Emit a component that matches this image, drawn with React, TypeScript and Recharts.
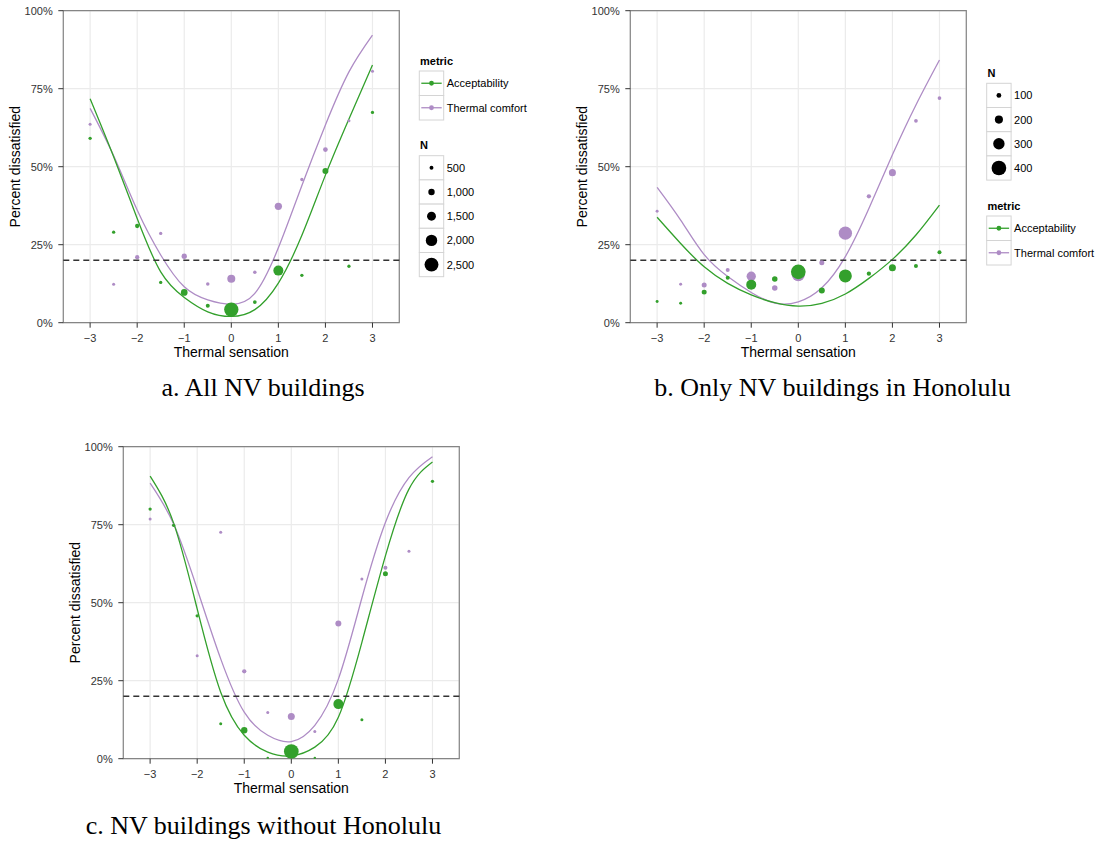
import React from 'react';
import {
  ComposedChart,
  Line,
  Scatter,
  XAxis,
  YAxis,
  CartesianGrid,
  ReferenceLine,
  ReferenceArea,
} from 'recharts';

// ---------- data ----------
const SENSATION = [-3, -2.5, -2, -1.5, -1, -0.5, 0, 0.5, 1, 1.5, 2, 2.5, 3];
const X_TICKS = [-3, -2, -1, 0, 1, 2, 3];
const X_MINOR = [-3.5, -2.5, -1.5, -0.5, 0.5, 1.5, 2.5, 3.5];
const Y_TICKS = [0, 25, 50, 75, 100];
const Y_MINOR = [12.5, 37.5, 62.5, 87.5];
const X_DOMAIN: [number, number] = [-3.57, 3.57];
const THRESHOLD = 20;

// Panel a: All NV buildings
const A_ACC_CURVE = [71.8, 53.2, 33.4, 16.3, 8.1, 3.5, 2.0, 4.2, 12.7, 28.0, 47.3, 65.3, 82.6];
const A_TC_CURVE = [68.7, 53.5, 36.1, 21.7, 11.5, 7.3, 5.9, 9.4, 24.0, 44.0, 63.4, 80.4, 92.2];
const A_ACC_PCT = [59.1, 29.0, 31.0, 12.9, 9.7, 5.4, 4.2, 6.6, 16.7, 15.2, 48.6, 18.1, 67.4];
const A_ACC_N = [380, 380, 580, 380, 1060, 520, 2580, 460, 1720, 380, 920, 380, 380];
const A_TC_PCT = [63.6, 12.3, 21.0, 28.6, 21.3, 12.4, 14.1, 16.2, 37.3, 45.9, 55.5, 64.7, 80.6];
const A_TC_N = [320, 320, 580, 380, 780, 420, 1320, 420, 1180, 380, 660, 320, 320];
const A_N_BREAKS = [500, 1000, 1500, 2000, 2500];

// Panel b: Only NV buildings in Honolulu
const B_ACC_CURVE = [33.8, 25.4, 17.9, 12.6, 8.9, 6.4, 5.3, 6.2, 9.2, 14.2, 20.3, 28.1, 37.7];
const B_TC_CURVE = [43.4, 32.9, 21.8, 14.8, 9.7, 6.3, 6.7, 11.2, 21.2, 36.6, 53.8, 69.8, 84.2];
const B_ACC_PCT = [6.8, 6.2, 9.8, 14.4, 12.2, 14.0, 16.3, 10.3, 15.0, 15.7, 17.6, 18.2, 22.6];
const B_ACC_N = [45, 45, 106, 76, 258, 121, 400, 136, 348, 85, 167, 76, 76];
const B_TC_PCT = [35.7, 12.3, 12.1, 16.9, 14.9, 11.1, 15.4, 19.2, 28.7, 40.5, 48.1, 64.7, 72.0];
const B_TC_N = [45, 45, 106, 76, 236, 121, 350, 106, 358, 85, 167, 67, 67];
const B_N_BREAKS = [100, 200, 300, 400];

// Panel c: NV buildings without Honolulu
const C_ACC_CURVE = [90.6, 75.5, 48.0, 21.3, 7.5, 2.1, 0.9, 3.7, 13.3, 37.3, 65.0, 86.4, 95.1];
const C_TC_CURVE = [88.3, 75.2, 54.4, 32.0, 14.9, 7.5, 5.5, 10.7, 25.5, 51.5, 75.7, 90.1, 96.8];
const C_ACC_PCT = [80.0, 74.8, 45.8, 11.2, 9.1, 0.2, 2.3, 0.2, 17.5, 12.5, 59.3, null, 88.9];
const C_ACC_N = [380, 380, 380, 320, 1000, 220, 2660, 220, 1720, 320, 720, null, 380];
const C_TC_PCT = [76.8, 74.9, 33.0, 72.6, 28.0, 14.8, 13.5, 8.7, 43.3, 57.6, 61.2, 66.5, null];
const C_TC_N = [320, 320, 320, 320, 580, 320, 1120, 320, 920, 320, 520, 320, null];

const METRICS = [
  { key: 'acc', label: 'Acceptability' },
  { key: 'tc', label: 'Thermal comfort' },
];

const CAPTIONS = ['a. All NV buildings', 'b. Only NV buildings in Honolulu', 'c. NV buildings without Honolulu'];

// ---------- styles ----------
const GREEN = '#33a02c';
const PURPLE = '#ae8cc5';
const COLORS: Record<string, string> = { acc: GREEN, tc: PURPLE };
const SANS = '"Liberation Sans", Arial, Helvetica, sans-serif';
const SERIF = '"Liberation Serif", "Times New Roman", serif';

const radiusA = (n: number) => (1.4 + 0.005 * n) / 2;
const radiusB = (n: number) => (1.5 + 0.033 * n) / 2;

const fmtX = (v: number) => (v < 0 ? '\u2212' + Math.abs(v) : String(v));
const fmtY = (v: number) => v + '%';
const fmtN = (v: number) => v.toLocaleString('en-US');

const buildCurve = (acc: number[], tc: number[]) =>
  SENSATION.map((x, i) => ({ x, acc: acc[i], tc: tc[i] }));
const buildPoints = (pct: (number | null)[], n: (number | null)[]) =>
  SENSATION.map((x, i) => ({ x, y: pct[i], n: n[i] })).filter((d) => d.y != null);

const makeDot = (color: string, radiusFn: (n: number) => number) => (props: any) => {
  const n = props.payload && props.payload.n != null ? props.payload.n : props.n;
  if (props.cx == null || props.cy == null) return <g />;
  return <circle cx={props.cx} cy={props.cy} r={radiusFn(n)} fill={color} />;
};

const minorVertical = (p: any) => {
  const s = p && p.xAxis && p.xAxis.scale;
  if (typeof s !== 'function') return [];
  return X_MINOR.map((v) => s(v));
};
const minorHorizontal = (p: any) => {
  const s = p && p.yAxis && p.yAxis.scale;
  if (typeof s !== 'function') return [];
  return Y_MINOR.map((v) => s(v));
};

const W = 410;
const H = 370;
const MARGIN = { top: 10.7, right: 10.7, bottom: 11.3, left: 7.3 };

type PanelProps = {
  left: number;
  top: number;
  accCurve: number[];
  tcCurve: number[];
  accPct: (number | null)[];
  accN: (number | null)[];
  tcPct: (number | null)[];
  tcN: (number | null)[];
  radius: (n: number) => number;
};

function Panel(p: PanelProps) {
  const curve = buildCurve(p.accCurve, p.tcCurve);
  const accPts = buildPoints(p.accPct, p.accN);
  const tcPts = buildPoints(p.tcPct, p.tcN);
  return (
    <div style={{ position: 'absolute', left: p.left, top: p.top, width: W, height: H }}>
      <ComposedChart width={W} height={H} data={curve} margin={MARGIN} style={{ fontFamily: SANS }}>
        <CartesianGrid
          stroke="#f3f3f3"
          strokeWidth={0.7}
          verticalCoordinatesGenerator={minorVertical}
          horizontalCoordinatesGenerator={minorHorizontal}
        />
        <CartesianGrid stroke="#ebebeb" strokeWidth={1.2} />
        <XAxis
          type="number"
          dataKey="x"
          domain={X_DOMAIN}
          ticks={X_TICKS}
          tickFormatter={fmtX}
          allowDataOverflow
          axisLine={false}
          tickSize={5}
          tickMargin={6.7}
          height={36}
          tick={{ fill: '#333', fontSize: 11 }}
          tickLine={{ stroke: '#333' }}
          label={{ value: 'Thermal sensation', position: 'insideBottom', offset: 1.7, fill: '#000', fontSize: 14 }}
        />
        <YAxis
          type="number"
          domain={[0, 100]}
          ticks={Y_TICKS}
          tickFormatter={fmtY}
          allowDataOverflow
          axisLine={false}
          tickSize={5}
          tickMargin={5.6}
          width={56}
          tick={{ fill: '#333', fontSize: 11 }}
          tickLine={{ stroke: '#333' }}
          label={{
            value: 'Percent dissatisfied',
            angle: -90,
            position: 'insideLeft',
            offset: 7.7,
            fill: '#000',
            fontSize: 14,
            style: { textAnchor: 'middle' },
          }}
        />
        <Scatter
          data={tcPts}
          dataKey="y"
          fill={PURPLE}
          shape={makeDot(PURPLE, p.radius)}
          isAnimationActive={false}
        />
        <Scatter
          data={accPts}
          dataKey="y"
          fill={GREEN}
          shape={makeDot(GREEN, p.radius)}
          isAnimationActive={false}
        />
        <Line
          dataKey="tc"
          type="natural"
          stroke={PURPLE}
          strokeWidth={1.3}
          dot={false}
          activeDot={false}
          isAnimationActive={false}
        />
        <Line
          dataKey="acc"
          type="natural"
          stroke={GREEN}
          strokeWidth={1.3}
          dot={false}
          activeDot={false}
          isAnimationActive={false}
        />
        <ReferenceLine y={THRESHOLD} stroke="#333" strokeWidth={1.6} strokeDasharray="6 4" />
        <ReferenceArea
          x1={X_DOMAIN[0]}
          x2={X_DOMAIN[1]}
          y1={0}
          y2={100}
          fill="none"
          fillOpacity={0}
          stroke="#858585"
          strokeWidth={1.2}
        />
      </ComposedChart>
    </div>
  );
}

function MetricLegend({ x, titleBaseline, top }: { x: number; titleBaseline: number; top: number }) {
  const rowH = 24.5;
  const boxW = 24.4;
  return (
    <g>
      <text x={x + 0.7} y={titleBaseline} fontWeight="bold" fontSize={11}>
        metric
      </text>
      {METRICS.map((m, i) => {
        const y = top + i * rowH;
        const c = COLORS[m.key];
        return (
          <g key={m.key}>
            <rect x={x} y={y} width={boxW} height={rowH} fill="#fff" stroke="#d4d4d4" strokeWidth={1} />
            <line x1={x + 2} x2={x + boxW - 2} y1={y + rowH / 2} y2={y + rowH / 2} stroke={c} strokeWidth={1.3} />
            <circle cx={x + boxW / 2} cy={y + rowH / 2} r={2.4} fill={c} />
            <text x={x + 27.4} y={y + rowH / 2 + 4} fontSize={11}>
              {m.label}
            </text>
          </g>
        );
      })}
    </g>
  );
}

function SizeLegend({
  x,
  titleBaseline,
  top,
  breaks,
  radius,
}: {
  x: number;
  titleBaseline: number;
  top: number;
  breaks: number[];
  radius: (n: number) => number;
}) {
  const rowH = 24.2;
  const boxW = 24.4;
  return (
    <g>
      <text x={x + 0.7} y={titleBaseline} fontWeight="bold" fontSize={11}>
        N
      </text>
      {breaks.map((b, i) => {
        const y = top + i * rowH;
        return (
          <g key={b}>
            <rect x={x} y={y} width={boxW} height={rowH} fill="#fff" stroke="#d4d4d4" strokeWidth={1} />
            <circle cx={x + boxW / 2} cy={y + rowH / 2} r={radius(b)} fill="#000" />
            <text x={x + 27.4} y={y + rowH / 2 + 4} fontSize={11}>
              {fmtN(b)}
            </text>
          </g>
        );
      })}
    </g>
  );
}

export default function App() {
  return (
    <div
      style={{
        position: 'absolute',
        left: 0,
        top: 0,
        width: 1100,
        height: 841,
        background: '#fff',
        fontFamily: SANS,
        overflow: 'hidden',
      }}
    >
      <Panel
        left={0}
        top={0}
        accCurve={A_ACC_CURVE}
        tcCurve={A_TC_CURVE}
        accPct={A_ACC_PCT}
        accN={A_ACC_N}
        tcPct={A_TC_PCT}
        tcN={A_TC_N}
        radius={radiusA}
      />
      <Panel
        left={567.4}
        top={0}
        accCurve={B_ACC_CURVE}
        tcCurve={B_TC_CURVE}
        accPct={B_ACC_PCT}
        accN={B_ACC_N}
        tcPct={B_TC_PCT}
        tcN={B_TC_N}
        radius={radiusB}
      />
      <Panel
        left={60}
        top={436}
        accCurve={C_ACC_CURVE}
        tcCurve={C_TC_CURVE}
        accPct={C_ACC_PCT}
        accN={C_ACC_N}
        tcPct={C_TC_PCT}
        tcN={C_TC_N}
        radius={radiusA}
      />
      <svg
        width={1100}
        height={841}
        style={{ position: 'absolute', left: 0, top: 0, pointerEvents: 'none', fontFamily: SANS }}
      >
        <MetricLegend x={419.3} titleBaseline={64.7} top={71} />
        <SizeLegend x={419.3} titleBaseline={149.3} top={155.7} breaks={A_N_BREAKS} radius={radiusA} />
        <SizeLegend x={986.7} titleBaseline={76.7} top={83.3} breaks={B_N_BREAKS} radius={radiusB} />
        <MetricLegend x={986.7} titleBaseline={210} top={216} />
        <text x={263} y={396} textAnchor="middle" fontSize={26} fontFamily={SERIF}>
          {CAPTIONS[0]}
        </text>
        <text x={832.5} y={396} textAnchor="middle" fontSize={26} fontFamily={SERIF}>
          {CAPTIONS[1]}
        </text>
        <text x={263.5} y={834} textAnchor="middle" fontSize={26} fontFamily={SERIF}>
          {CAPTIONS[2]}
        </text>
      </svg>
    </div>
  );
}
